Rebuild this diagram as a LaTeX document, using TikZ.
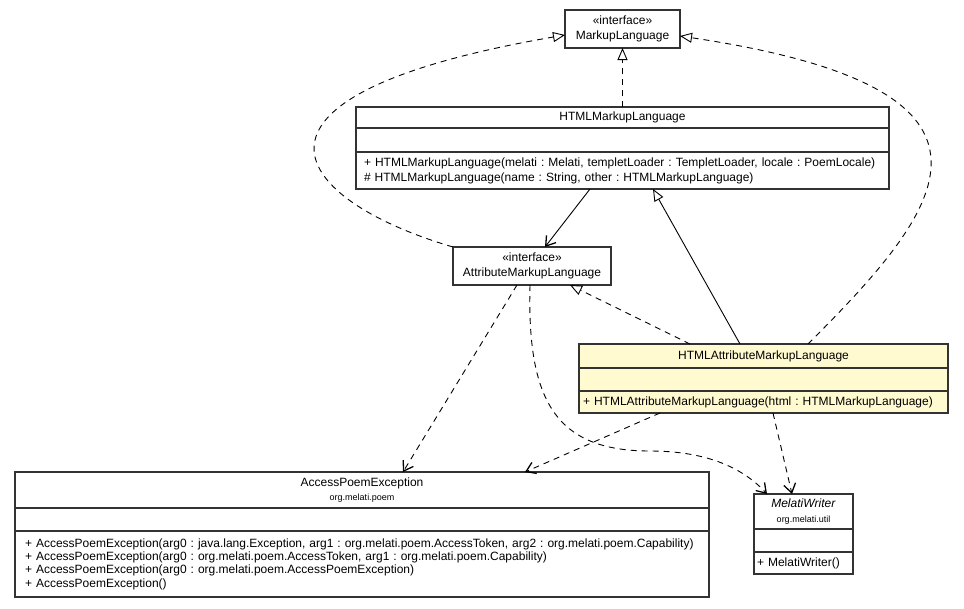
\documentclass[tikz,border=0pt]{standalone}
\usepackage{fontspec}
\setmainfont{Liberation Sans}
\usetikzlibrary{arrows.meta,positioning}
\frenchspacing

\definecolor{classyellow}{RGB}{255,250,208}
\newcommand{\umlfont}{\fontsize{12}{15}\selectfont}
\newcommand{\pkgfont}{\fontsize{9}{11}\selectfont}

\tikzset{
    classpart/.style={draw=black!80, line width=1.1pt, inner sep=0pt, outer sep=0pt,
        minimum width=#1, align=center, font=\umlfont},
    opspart/.style={draw=black!80, line width=1.1pt, inner ysep=0pt, outer sep=0pt,
        align=left, font=\umlfont},
    realize/.style={line width=0.9pt, dash pattern=on 6pt off 5pt,
        -{Triangle[open,length=12pt,width=10pt]}},
    inherit/.style={line width=0.9pt, -{Triangle[open,length=12pt,width=10pt]}},
    depend/.style={line width=0.9pt, dash pattern=on 6pt off 5pt,
        -{Straight Barb[length=9pt,width=12pt,line width=1.3pt]}},
    navig/.style={line width=0.9pt, -{Straight Barb[length=9pt,width=12pt,line width=1.3pt]}}
}

\begin{document}
\begin{tikzpicture}[x=1pt,y=-1pt]
    \useasboundingbox (0,0) rectangle (964,608);
    % MarkupLanguage
    \node[classpart=115pt, minimum height=38pt, anchor=north west] (ml) at (565,10)
        {«interface»\\MarkupLanguage};
    % HTMLMarkupLanguage
    \node[classpart=533pt, minimum height=21pt, anchor=north west] (html) at (356,107)
        {HTMLMarkupLanguage};
    \node[classpart=533pt, minimum height=24pt, below=0pt of html] (html-f) {};
    \node[opspart, text width=517pt, inner xsep=8pt, minimum height=37pt, below=0pt of html-f] (html-m)
        {+ HTMLMarkupLanguage(melati : Melati, templetLoader : TempletLoader, locale : PoemLocale)\\
         \# HTMLMarkupLanguage(name : String, other : HTMLMarkupLanguage)};
    % AttributeMarkupLanguage
    \node[classpart=158pt, minimum height=38pt, anchor=north west] (attr) at (453,247)
        {«interface»\\AttributeMarkupLanguage};
    % HTMLAttributeMarkupLanguage
    \node[classpart=369pt, minimum height=24pt, fill=classyellow, anchor=north west] (hattr) at (579,344)
        {HTMLAttributeMarkupLanguage};
    \node[classpart=369pt, minimum height=23pt, fill=classyellow, below=0pt of hattr] (hattr-f) {};
    \node[opspart, text width=361pt, inner xsep=4pt, minimum height=22pt, fill=classyellow, below=0pt of hattr-f] (hattr-m)
        {+ HTMLAttributeMarkupLanguage(html : HTMLMarkupLanguage)};
    % AccessPoemException
    \node[classpart=694pt, minimum height=36pt, anchor=north west] (ape) at (15,472)
        {AccessPoemException\\[-1pt]{\pkgfont org.melati.poem}};
    \node[classpart=694pt, minimum height=23pt, below=0pt of ape] (ape-f) {};
    \node[opspart, text width=674pt, inner xsep=10pt, minimum height=66pt,
        font=\fontsize{12}{13.3}\selectfont, below=0pt of ape-f] (ape-m)
        {+ AccessPoemException(arg0 : java.lang.Exception, arg1 : org.melati.poem.AccessToken, arg2 : org.melati.poem.Capability)\\
         + AccessPoemException(arg0 : org.melati.poem.AccessToken, arg1 : org.melati.poem.Capability)\\
         + AccessPoemException(arg0 : org.melati.poem.AccessPoemException)\\
         + AccessPoemException()};
    % MelatiWriter
    \node[classpart=99pt, minimum height=35pt, anchor=north west] (mw) at (754,494)
        {\textit{MelatiWriter}\\{\pkgfont org.melati.util}};
    \node[classpart=99pt, minimum height=23pt, below=0pt of mw] (mw-f) {};
    \node[opspart, text width=93pt, inner xsep=3pt, minimum height=22pt, below=0pt of mw-f] (mw-m)
        {+ MelatiWriter()};

    % realizations
    \draw[realize] (html.north) -- (ml.south);
    \draw[realize] (attr.north west) .. controls (296,201) and (206,97) .. ([yshift=-6pt]ml.west);
    \draw[realize] ([xshift=44.5pt]hattr.north) .. controls (942,210) and (1041,90) .. ([yshift=-7pt]ml.east);
    \draw[realize] ([xshift=-73.5pt]hattr.north) -- ([xshift=38pt]attr.south);
    % generalization
    \draw[inherit] ([xshift=-23.5pt]hattr.north) -- ([xshift=30.5pt]html-m.south);
    % association
    \draw[navig] ([xshift=-32.5pt]html-m.south) -- ([xshift=13pt]attr.north);
    % dependencies
    \draw[depend] ([xshift=-15pt]attr.south) -- ([xshift=41pt]ape.north);
    \draw[depend] ([xshift=-2pt]attr.south) .. controls (527,400) and (555,451) .. (650,451)
        .. controls (710,451) and (745,470) .. ([xshift=-36.5pt]mw.north);
    \draw[depend] ([xshift=-103.5pt]hattr-m.south) -- ([xshift=163pt]ape.north);
    \draw[depend] ([xshift=9.5pt]hattr-m.south) -- ([xshift=-11.5pt]mw.north);
\end{tikzpicture}
\end{document}
